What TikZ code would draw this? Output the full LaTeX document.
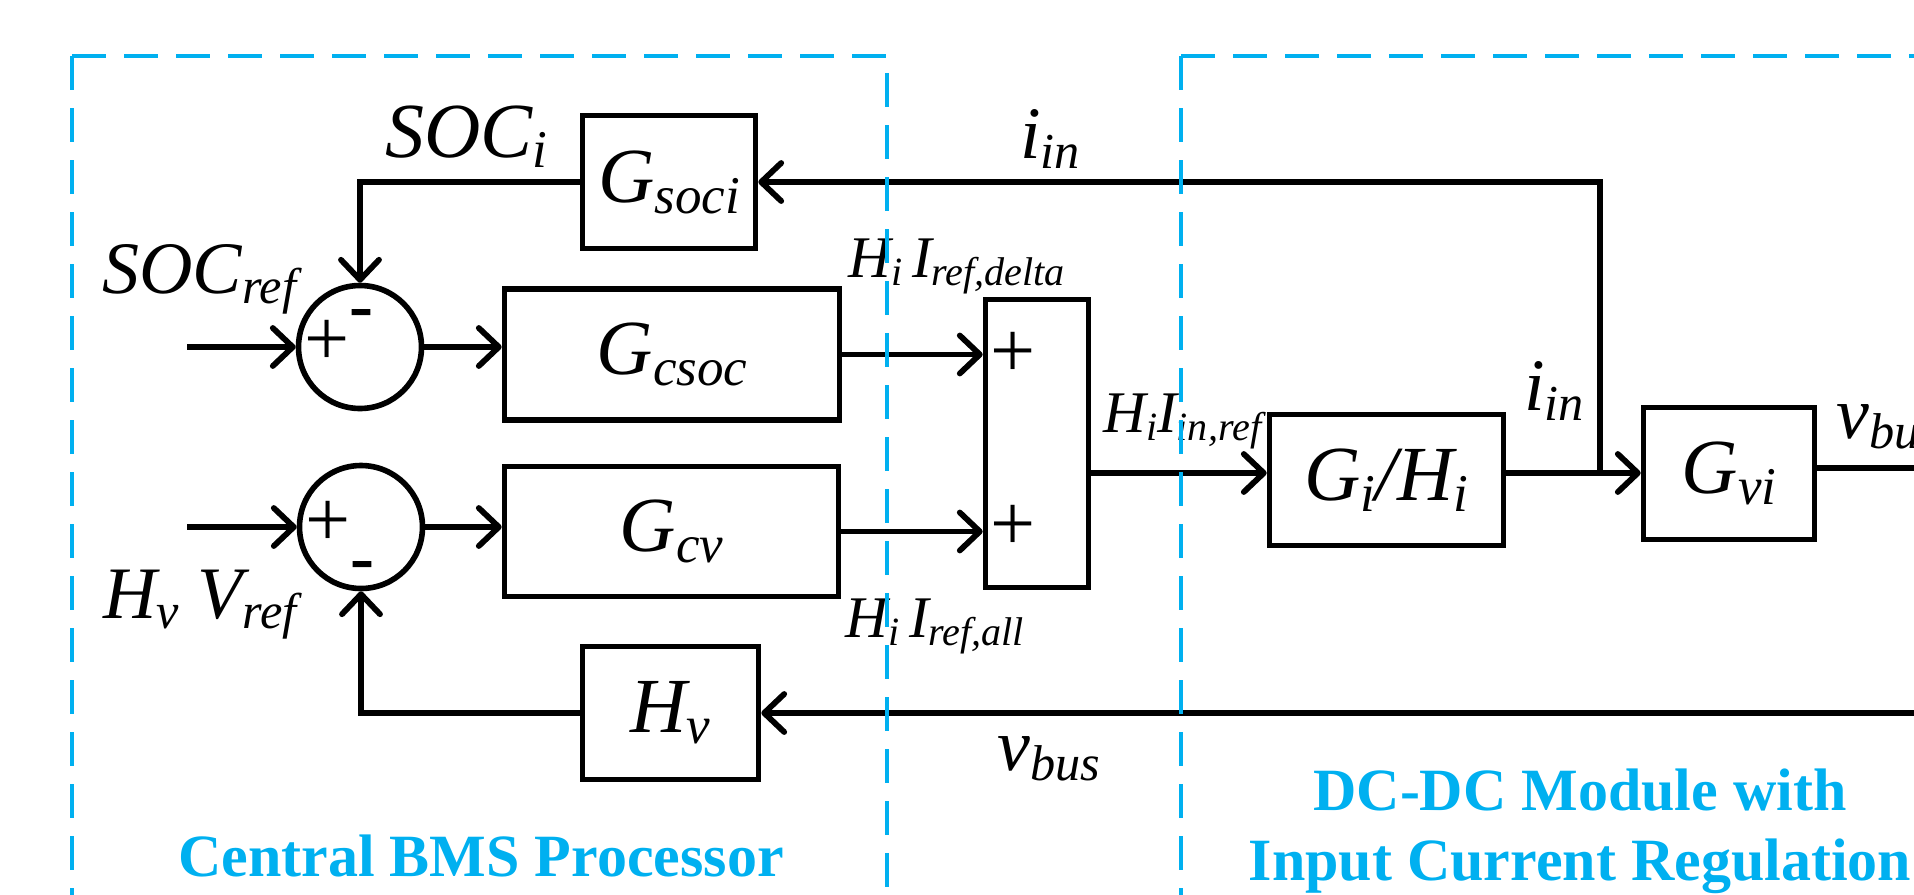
\documentclass[tikz,border=0pt]{standalone}
\usepackage{graphicx}
\usepackage{fontspec}
\setmainfont{Liberation Serif}
\usetikzlibrary{arrows.meta}
\definecolor{bmsblue}{RGB}{0,176,240}
\newcommand\Sb[1]{\raisebox{-0.14em}{\scalebox{0.68}{#1}}}
\newcommand\fsz[1]{\fontsize{#1}{#1}\selectfont}
\tikzset{
  blk/.style={draw, line width=2.8pt, inner sep=0pt, font=\fsz{39}\itshape},
  sumc/.style={draw, circle, line width=2.8pt, minimum size=61.5pt, inner sep=0pt},
  wire/.style={line width=2.9pt},
  arr/.style={wire, -{Straight Barb[length=10pt,width=19pt,round]}},
  lbl/.style={inner sep=0pt, anchor=base west, font=\fsz{37}\itshape},
  slbl/.style={lbl, font=\fsz{29.5}\itshape},
  pls/.style={inner sep=0pt, font=\fsz{40}},
  mns/.style={inner sep=0pt, anchor=base, font=\fsz{36}\bfseries},
  dashbox/.style={draw=bmsblue, line width=2.2pt, dash pattern=on 17pt off 9pt},
  ttl/.style={text=bmsblue, font=\fsz{30}\bfseries, inner sep=0pt, anchor=base}
}
\begin{document}
\begin{tikzpicture}[x=0.5pt,y=-0.5pt]
\useasboundingbox (0,0) rectangle (1914,894);
% blocks
\node[blk, minimum width=86.5pt, minimum height=66.5pt] (Gsoci) at (669,182) {G\Sb{soci}};
\node[blk, minimum width=167.5pt, minimum height=65.5pt] (Gcsoc) at (672,354.5) {G\Sb{csoc}};
\node[blk, minimum width=167pt, minimum height=65pt] (Gcv) at (671.5,531.5) {G\Sb{cv}};
\node[blk, minimum width=88pt, minimum height=66.5pt] (Hv) at (670.5,713) {H\Sb{v}};
\node[blk, minimum width=51.5pt, minimum height=144pt] (sumr) at (1037,443.5) {};
\node[blk, minimum width=117pt, minimum height=65.5pt] (GiHi) at (1386.5,480) {G\Sb{i}/H\Sb{i}};
\node[blk, minimum width=85.5pt, minimum height=66pt] (Gvi) at (1729,473.5) {G\Sb{vi}};
\node[sumc] (s1) at (360,347) {};
\node[sumc] (s2) at (361,527) {};
% signs
\node[pls] (p1) at (327,343) {+};
\node[pls] (p2) at (328,524) {+};
\node[pls] (p3) at (1013,355) {+};
\node[pls] (p4) at (1013,528) {+};
\node[mns] (m1) at (361,329) {-};
\node[mns] (m2) at (362,581) {-};
% coordinates
\coordinate (in1) at (187,347);
\coordinate (in2) at (187,527);
\coordinate (lv) at (0,473);
\coordinate (br) at (1600,473);
\coordinate (outr) at (1925,468);
\coordinate (vb) at (1925,713);
% wires
\draw[arr] (in1) -- (s1.west);
\draw[arr] (in2) -- (s2.west);
\draw[arr] (s1.east) -- (s1.east -| Gcsoc.west);
\draw[arr] (s2.east) -- (s2.east -| Gcv.west);
\draw[arr] (Gcsoc.east) -- (Gcsoc.east -| sumr.west);
\draw[arr] (Gcv.east) -- (Gcv.east -| sumr.west);
\draw[arr] (sumr.east |- lv) -- (GiHi.west |- lv);
\draw[arr] (GiHi.east |- lv) -- (Gvi.west |- lv);
\draw[wire] (Gvi.east |- outr) -- (outr);
\draw[arr] (br) |- (Gsoci.east);
\draw[arr] (Gsoci.west) -| (s1.north);
\draw[arr] (vb) -- (Hv.east);
\draw[arr] (Hv.west) -| (s2.south);
% labels
\node[lbl, font=\fsz{39}\itshape] (lsoci) at (385,157) {SOC\Sb{i}};
\node[lbl] (lsocref) at (102,293) {SOC\Sb{ref}};
\node[lbl] (lhv) at (103,618) {H\Sb{v} V\Sb{ref}};
\node[slbl] (ldelta) at (848,277) {H\Sb{i}\,I\Sb{ref,delta}};
\node[slbl] (lall) at (845,637) {H\Sb{i}\,I\Sb{ref,all}};
\node[slbl] (linref) at (1103,432) {H\Sb{i}I\Sb{in,ref}};
\node[lbl] (liin1) at (1020,158) {i\Sb{in}};
\node[lbl] (liin2) at (1524,410) {i\Sb{in}};
\node[lbl] (lvbus1) at (997,770) {v\Sb{bus}};
\node[lbl] (lvbus2) at (1836,438) {v\Sb{bus}};
% titles
\node[ttl] (t1) at (481,876) {Central BMS Processor};
\node[ttl] (t2) at (1580,810) {DC-DC Module with};
\node[ttl] (t3) at (1580,880) {Input Current Regulation};
% dashed boundaries
\draw[dashbox] (72,56) -- (72,900);
\draw[dashbox] (72,56) -- (887,56) -- (887,900);
\draw[dashbox] (1181,56) -- (1181,900);
\draw[dashbox] (1181,56) -- (1925,56);
\end{tikzpicture}
\end{document}
